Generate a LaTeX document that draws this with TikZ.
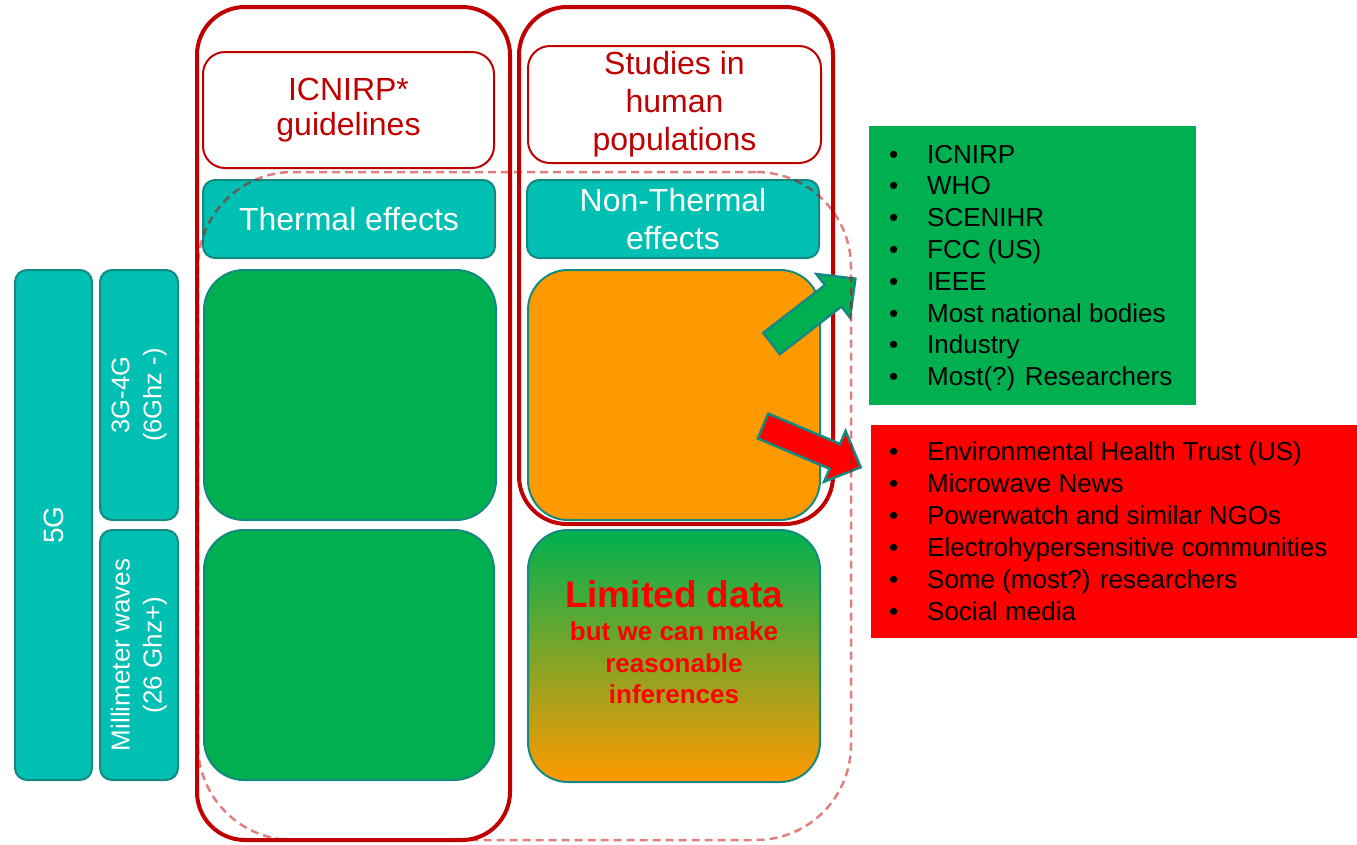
\documentclass[tikz,border=0pt]{standalone}
\usepackage{fontspec}
\setmainfont{Liberation Sans}
\definecolor{dred}{RGB}{192,0,0}
\definecolor{tealf}{RGB}{0,191,179}
\definecolor{teald}{RGB}{20,137,128}
\definecolor{grn}{RGB}{0,176,80}
\definecolor{orng}{RGB}{255,153,0}
\definecolor{redf}{RGB}{255,0,0}
\newcommand\myarrow[5]{% name x y angle color
  \draw[arrowshape, fill=#5, shift={(#2,#3)}, rotate=#4] (0,-13.5) coordinate (#1) -- (78,-13.5) -- (78,-27.5) -- (106,0) -- (78,27.5) -- (78,13.5) -- (0,13.5) -- cycle;}
\begin{document}
\begin{tikzpicture}[x=1pt,y=-1pt,
  outerbox/.style={draw=dred, line width=4pt, rounded corners=48pt, inner sep=0pt, outer sep=0pt},
  hdrbox/.style={draw=dred, line width=2pt, rounded corners=22pt, fill=white, text=dred, align=center, font=\fontsize{32}{37}\selectfont, inner sep=0pt},
  tealbox/.style={draw=teald, line width=2pt, fill=tealf, rounded corners=12pt, text=white, align=center, inner sep=0pt, font=\fontsize{32}{38}\selectfont},
  sidebox/.style={tealbox, rotate=90, font=\fontsize{25.5}{32}\selectfont},
  bigbox/.style={draw=teald, line width=2pt, rounded corners=40pt, inner sep=0pt},
  listitem/.style={anchor=base west, inner sep=0pt, font=\fontsize{26}{31}\selectfont, text=black},
  limline/.style={anchor=base, inner sep=0pt, text=redf, font=\bfseries\fontsize{26}{31}\selectfont},
  arrowshape/.style={draw=teald, line width=2.5pt, line join=miter},
  dashbox/.style={draw=dred, draw opacity=0.5, line width=2.5pt, dash pattern=on 8pt off 5pt, rounded corners=95pt, inner sep=0pt}
]
\useasboundingbox (0,0) rectangle (1357,844);

% outer red columns
\node[outerbox, minimum width=313, minimum height=833] (col1) at (353.5,423.5) {};
\node[outerbox, minimum width=314, minimum height=517] (col2) at (676,265.5) {};

% headers
\node[hdrbox, minimum width=291, minimum height=116, font=\fontsize{32}{35}\selectfont] (icn) at (348.5,110) {ICNIRP*\\guidelines};
\node[hdrbox, minimum width=293, minimum height=117, font=\fontsize{32}{38}\selectfont] (stud) at (674.5,104.5) {Studies in\\human\\populations};

% teal effect boxes
\node[tealbox, minimum width=292, minimum height=78] (therm) at (349,219) {Thermal effects};
\node[tealbox, minimum width=292, minimum height=78] (ntherm) at (673,219) {Non-Thermal\\effects};

% side boxes
\node[sidebox, minimum width=510, minimum height=77, font=\fontsize{28}{34}\selectfont] (fiveg) at (53.5,525) {5G};
\node[sidebox, minimum width=250, minimum height=78] (g34) at (139,395) {3G-4G\\(6Ghz -)};
\node[sidebox, minimum width=250, minimum height=78, font=\fontsize{26}{32}\selectfont] (mmw) at (139,655) {Millimeter waves\\(26 Ghz+)};

% big boxes
\node[bigbox, fill=grn, minimum width=292, minimum height=250] (gA) at (350,395) {};
\node[bigbox, fill=orng, minimum width=292, minimum height=250] (oA) at (674,395) {};
\node[bigbox, fill=grn, minimum width=290, minimum height=250] (gB) at (349,655) {};
\node[bigbox, top color=grn, bottom color=orng, minimum width=292, minimum height=252] (grad) at (674,656) {};

\node[limline, font=\bfseries\fontsize{37}{40}\selectfont] (lim1) at (674,607) {Limited data};
\node[limline] (lim2) at (674,640) {but we can make};
\node[limline] (lim3) at (674,672) {reasonable};
\node[limline] (lim4) at (674,703) {inferences};

% list boxes
\node[fill=grn, minimum width=327, minimum height=279, inner sep=0pt] (glist) at (1032.5,265.5) {};
\node[fill=redf, minimum width=486, minimum height=213, inner sep=0pt] (rlist) at (1114,531.5) {};

\foreach \t [count=\i from 0] in {ICNIRP, WHO, SCENIHR, FCC (US), IEEE, Most national bodies, Industry, Most(?) Researchers}
  \node[listitem] (g\i) at (889,163+31.8*\i) {\makebox[38pt][l]{\textbullet}\t};
\foreach \t [count=\i from 0] in {Environmental Health Trust (US), Microwave News, Powerwatch and similar NGOs, Electrohypersensitive communities, Some (most?) researchers, Social media}
  \node[listitem] (r\i) at (889,460+32*\i) {\makebox[38pt][l]{\textbullet}\t};

% block arrows
\myarrow{ga}{771.5}{343.5}{37.7}{grn}
\myarrow{ra}{763}{426}{-22.9}{redf}

% dashed zone
\node[dashbox, minimum width=653, minimum height=668] (zone) at (524.5,506) {};
\end{tikzpicture}
\end{document}
